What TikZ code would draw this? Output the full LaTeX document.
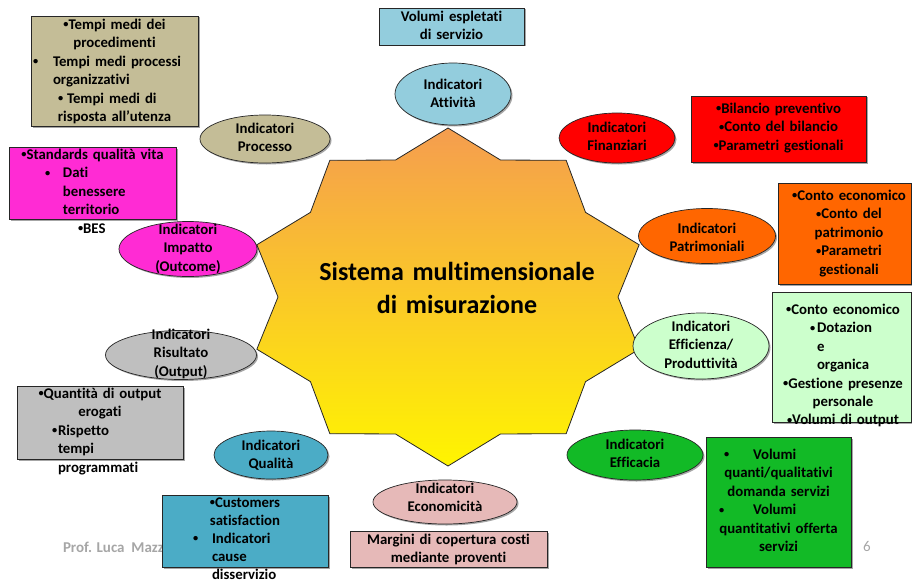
\documentclass[tikz,border=0pt]{standalone}
\usepackage{fontspec}
\setmainfont{Carlito}[Ligatures=NoCommon]
\usetikzlibrary{shapes.geometric,shadows}

\definecolor{skyfill}{HTML}{93CDDD}
\definecolor{tanfill}{HTML}{C4BD97}
\definecolor{pinkfill}{HTML}{FF2BD4}
\definecolor{greyfill}{HTML}{BFBFBF}
\definecolor{tealfill}{HTML}{4BACC6}
\definecolor{rosefill}{HTML}{E6B9B8}
\definecolor{redfill}{HTML}{FF0000}
\definecolor{orangefill}{HTML}{FF6600}
\definecolor{mintfill}{HTML}{CCFFCC}
\definecolor{greenfill}{HTML}{12BA26}
\definecolor{startop}{HTML}{F59D4F}
\definecolor{starbot}{HTML}{FFF500}
\definecolor{footgrey}{HTML}{A6A6A6}
\definecolor{edge}{HTML}{262626}

% small bullet as used in the lists
\newcommand{\bu}{\raisebox{0.12em}{\scalebox{0.7}{•}}}
% a line starting at a given offset from the left edge of the text block
\newcommand{\txl}[2]{\makebox[\linewidth][l]{\hspace*{#1pt}#2}}
% a bullet at one offset and its text at another
\newcommand{\bul}[3]{\makebox[\linewidth][l]{\rlap{\hspace*{#1pt}\bu}\hspace*{#2pt}#3}}

\tikzset{
  every node/.style={inner sep=0pt, outer sep=0pt},
  shade/.style={drop shadow={shadow xshift=1.5pt, shadow yshift=-1.5pt, opacity=0.35, fill=black}},
  ell/.style={ellipse, draw=edge, line width=0.7pt, shade},
  box/.style={rectangle, draw=edge, line width=0.8pt, shade},
  txt/.style={font=\fontsize{14.8}{18.4}\selectfont\bfseries, align=center,
              anchor=north, text width=#1, execute at begin node=\strut},
  txt/.default=150pt,
  title/.style={font=\fontsize{26}{33}\selectfont\bfseries, align=center,
                anchor=north, text width=340pt, execute at begin node=\strut},
  foot/.style={font=\fontsize{15}{18}\selectfont, text=footgrey},
}

\begin{document}
\begin{tikzpicture}[x=1pt, y=-1pt]
\useasboundingbox (0,0) rectangle (912,583);

% footer
\node[foot, font=\fontsize{15}{18}\selectfont\bfseries, anchor=west] (author) at (63,547) {Prof. Luca\ \ Mazzara};
\node[foot] (pagenum) at (867,546) {6};

% central ten-pointed star
\begin{scope}[shift={(448,297)}]
  \path[draw=edge, line width=0.8pt, top color=startop, bottom color=starbot]
    (90:201 and 169)
    \foreach \k in {0,...,9} { -- ({108+36*\k}:170 and 144) -- ({126+36*\k}:201 and 169) }
    -- cycle;
\end{scope}
\node[title] (core) at (457,257) {Sistema multimensionale\\di misurazione};

% indicator ellipses
\node[ell, fill=skyfill,    minimum width=116pt, minimum height=62pt] (att) at (453,94) {};
\node[ell, fill=tanfill,    minimum width=130pt, minimum height=48pt] (proc) at (265,139) {};
\node[ell, fill=redfill,    minimum width=116pt, minimum height=50pt] (fin) at (617,138) {};
\node[ell, fill=orangefill, minimum width=137pt, minimum height=55pt] (pat) at (707,236) {};
\node[ell, fill=mintfill,   minimum width=136pt, minimum height=66pt] (eff) at (701,346) {};
\node[ell, fill=greenfill,  minimum width=136pt, minimum height=50pt] (efc) at (635,455) {};
\node[ell, fill=rosefill,   minimum width=144pt, minimum height=44pt] (eco) at (445,502) {};
\node[ell, fill=tealfill,   minimum width=114pt, minimum height=48pt] (qual) at (271,455) {};
\node[ell, fill=greyfill,   minimum width=151pt, minimum height=49pt] (ris) at (181,355) {};
\node[ell, fill=pinkfill,   minimum width=138pt, minimum height=55pt] (imp) at (188,249) {};

\node[txt=130pt] (att-t)  at (453,76.7)  {Indicatori\\Attività};
\node[txt=130pt] (proc-t) at (265,120.7) {Indicatori\\Processo};
\node[txt=130pt] (fin-t)  at (617,119.7) {Indicatori\\Finanziari};
\node[txt=130pt] (pat-t)  at (707,220.7) {Indicatori\\Patrimoniali};
\node[txt=130pt] (eff-t)  at (701,318.7) {Indicatori\\Efficienza/\\Produttività};
\node[txt=130pt] (efc-t)  at (635,436.7) {Indicatori\\Efficacia};
\node[txt=130pt] (eco-t)  at (445,480.7) {Indicatori\\Economicità};
\node[txt=130pt] (qual-t) at (271,437.7) {Indicatori\\Qualità};
\node[txt=130pt] (ris-t)  at (181,326.7) {Indicatori\\Risultato\\(Output)};
\node[txt=130pt] (imp-t)  at (188,221.7) {Indicatori\\Impatto\\(Outcome)};

% description boxes
\node[box, fill=tanfill,    minimum width=167pt, minimum height=110pt] (tanbox)   at (114.5,71) {};
\node[box, fill=pinkfill,   minimum width=167pt, minimum height=72pt]  (pinkbox)  at (92.5,183) {};
\node[box, fill=skyfill,    minimum width=145pt, minimum height=37pt]  (skybox)   at (451.5,26.5) {};
\node[box, fill=redfill,    minimum width=175pt, minimum height=66pt]  (redbox)   at (778.5,129) {};
\node[box, fill=orangefill, minimum width=133pt, minimum height=101pt] (orangebox) at (844.5,233.5) {};
\node[box, fill=mintfill,   minimum width=139pt, minimum height=130pt] (mintbox)  at (841.5,357) {};
\node[box, fill=greenfill,  minimum width=145pt, minimum height=130pt] (greenbox) at (778.5,502) {};
\node[box, fill=greyfill,   minimum width=166pt, minimum height=73pt]  (greybox)  at (100,422.5) {};
\node[box, fill=tealfill,   minimum width=166pt, minimum height=72pt]  (tealbox)  at (245,531) {};
\node[box, fill=rosefill,   minimum width=197pt, minimum height=36pt]  (rosebox)  at (448.5,549) {};

\node[txt=167pt] (tanbox-t) at (114.5,16.7) {%
  \bu Tempi medi dei\\
  procedimenti\\
  \bul{2}{22}{Tempi medi processi}\\
  \txl{22}{organizzativi}\\
  \bul{27}{36}{Tempi medi di}\\
  risposta all’utenza};
\node[txt=167pt] (pinkbox-t) at (92.5,146.7) {%
  \bu Standards qualità vita\\
  \bul{36}{54}{Dati}\\
  \txl{54}{benessere}\\
  \txl{54}{territorio}\\
  \txl{69}{\bu BES}};
\node[txt=145pt] (skybox-t) at (451.5,8.7) {Volumi espletati\\di servizio};
\node[txt=175pt] (redbox-t) at (778.5,100.7) {%
  \bu Bilancio preventivo\\
  \bu Conto del bilancio\\
  \bu Parametri gestionali};
\node[txt=142pt] (orangebox-t) at (849,187.7) {%
  \bu Conto economico\\
  \bu Conto del\\
  patrimonio\\
  \bu Parametri\\
  gestionali};
\node[txt=142pt] (mintbox-t) at (843,301.7) {%
  \bu Conto economico\\
  \bul{38}{45}{Dotazion}\\
  \txl{45}{e}\\
  \txl{45}{organica}\\
  \bu Gestione presenze\\
  personale\\
  \bu Volumi di output};
\node[txt=145pt] (greenbox-t) at (778.5,446.7) {%
  \bul{18}{47}{Volumi}\\
  quanti/qualitativi\\
  domanda servizi\\
  \bul{13}{47}{Volumi}\\
  quantitativi offerta\\
  servizi};
\node[txt=166pt] (greybox-t) at (100,385.7) {%
  \bu Quantità di output\\
  erogati\\
  \bul{35}{41}{Rispetto}\\
  \txl{41}{tempi}\\
  \txl{41}{programmati}};
\node[txt=166pt, font=\fontsize{14.8}{18}\selectfont\bfseries] (tealbox-t) at (245,494.5) {%
  \bu Customers\\
  satisfaction\\
  \bul{31}{50}{Indicatori}\\
  \txl{50}{cause}\\
  \txl{50}{disservizio}};
\node[txt=197pt] (rosebox-t) at (448.5,531.7) {Margini di copertura costi\\mediante proventi};

\end{tikzpicture}
\end{document}
